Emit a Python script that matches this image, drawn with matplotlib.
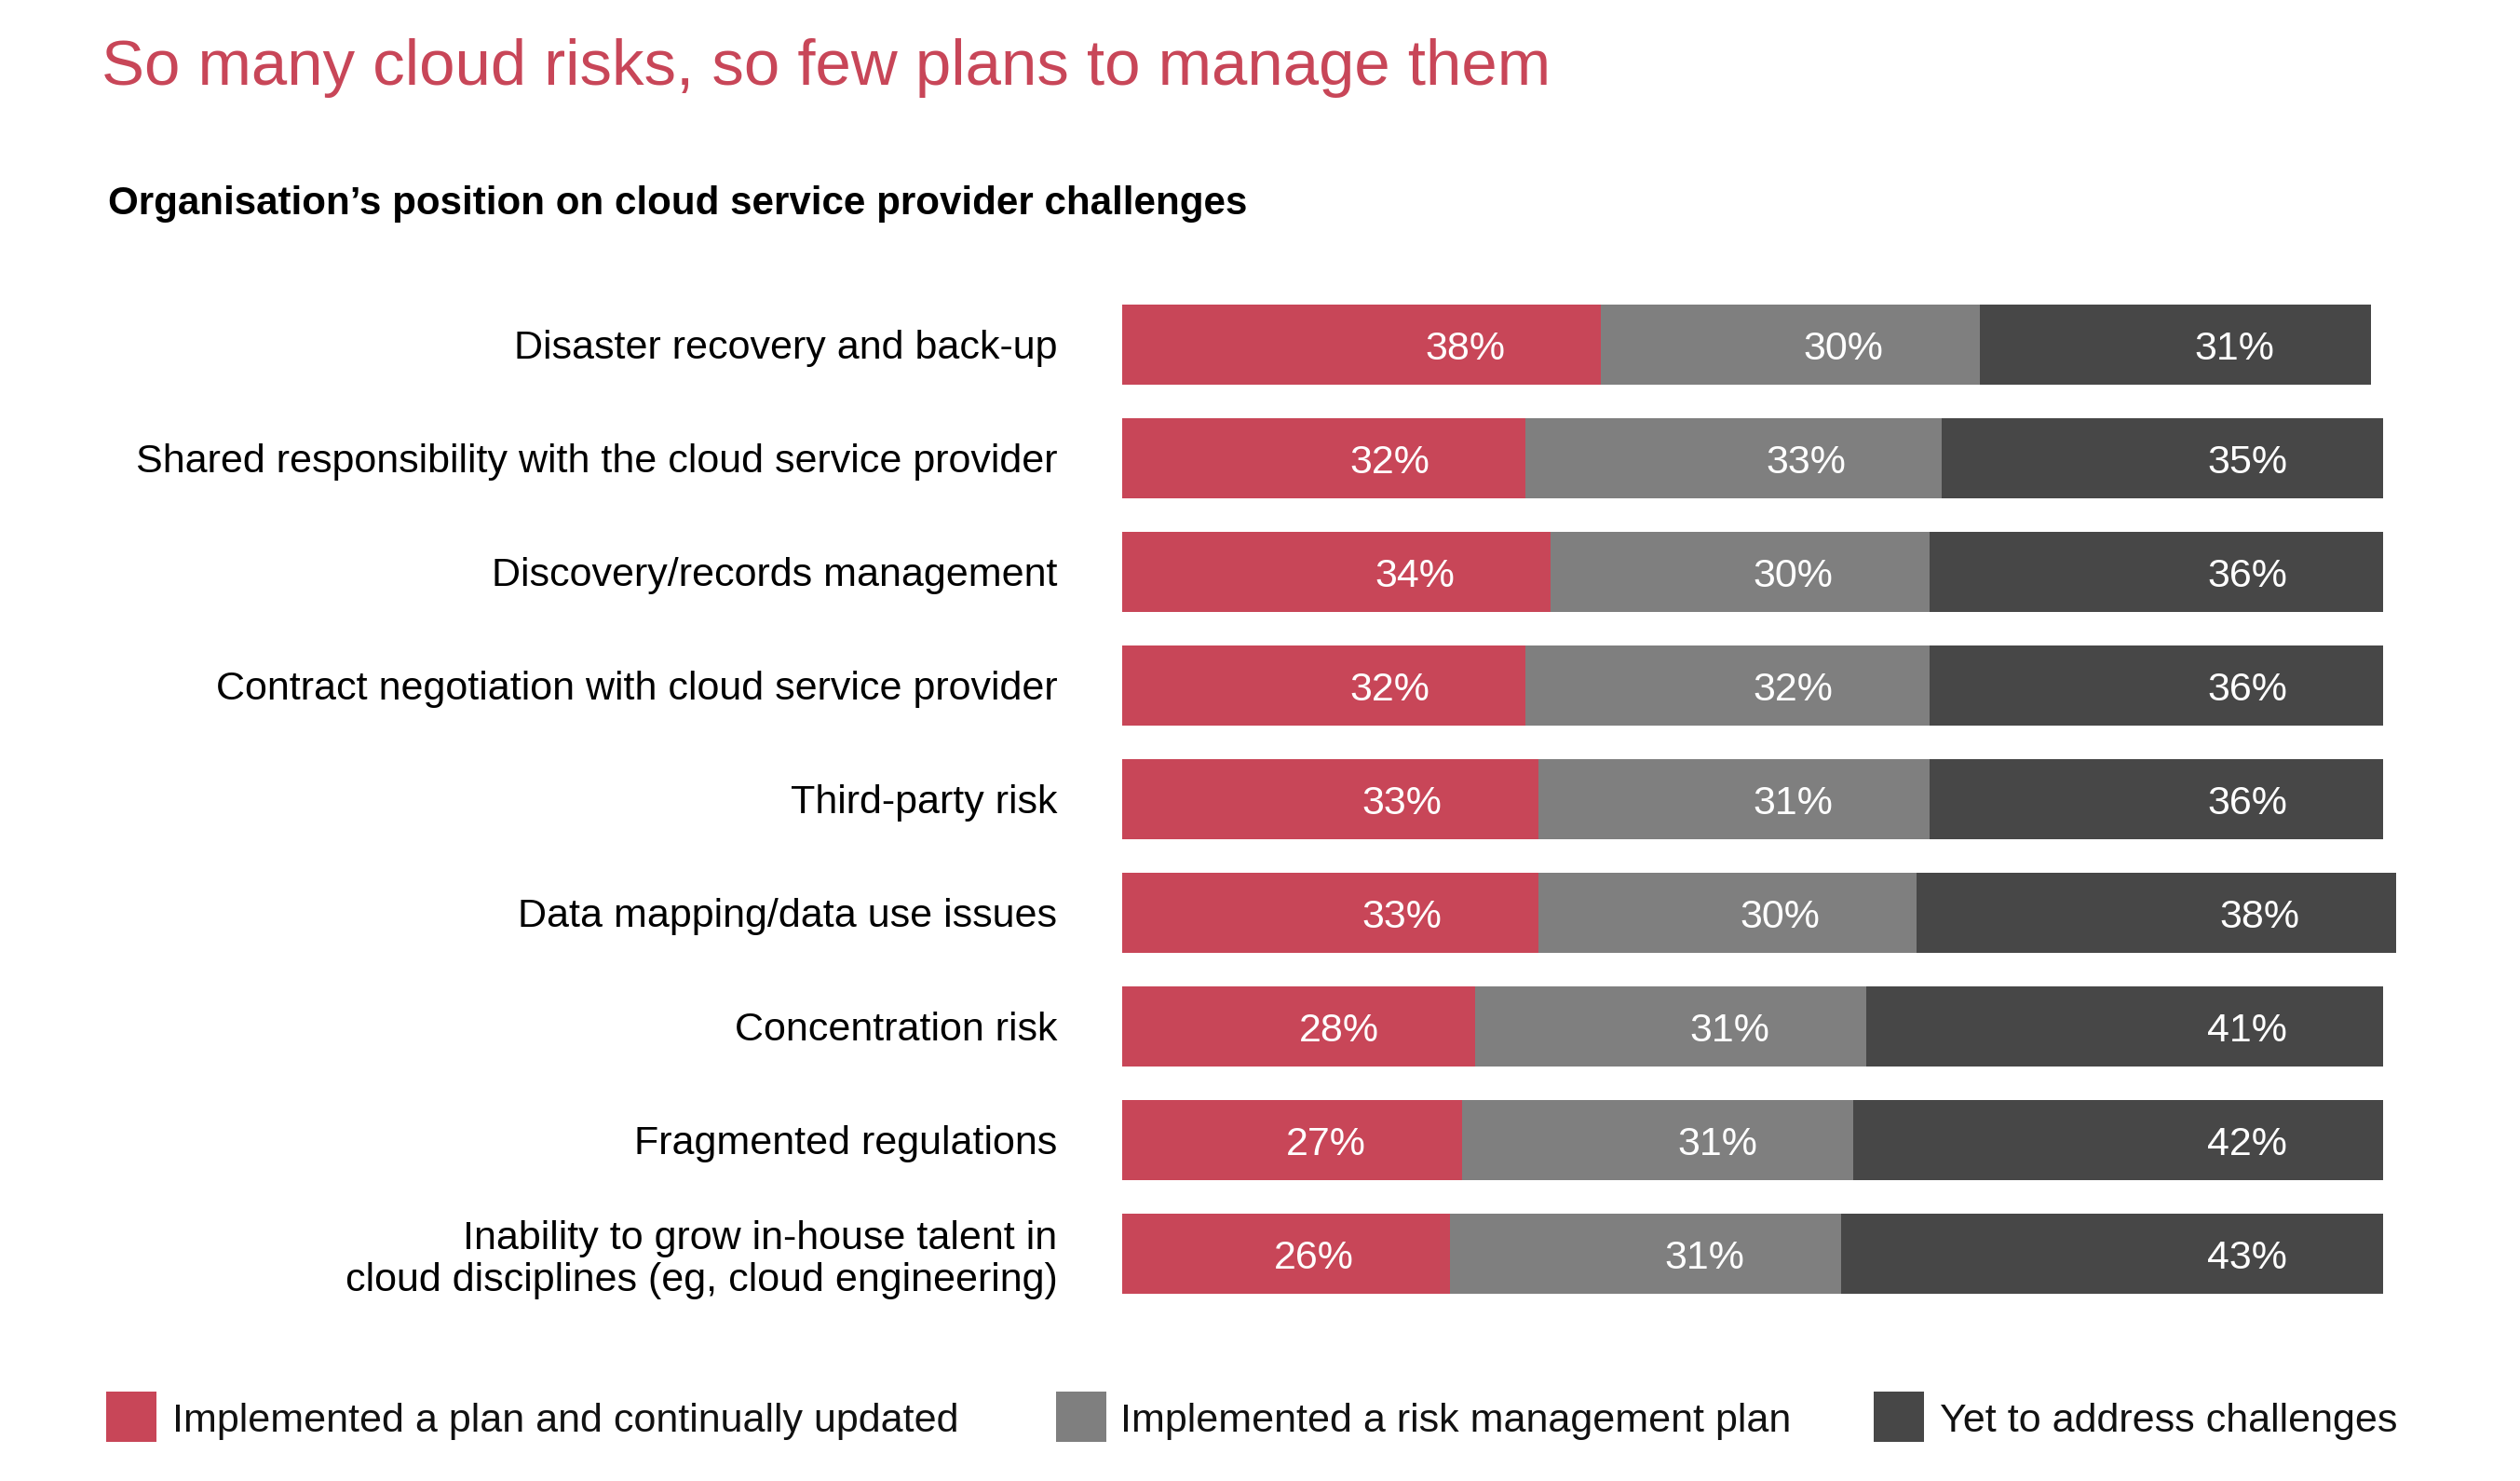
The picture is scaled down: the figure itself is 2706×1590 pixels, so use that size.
import matplotlib
matplotlib.use("Agg")
import matplotlib.pyplot as plt
from matplotlib.patches import Rectangle
import numpy as np

plt.rcParams["font.family"] = ["Liberation Sans", "DejaVu Sans"]

categories = [
    "Disaster recovery and back-up",
    "Shared responsibility with the cloud service provider",
    "Discovery/records management",
    "Contract negotiation with cloud service provider",
    "Third-party risk",
    "Data mapping/data use issues",
    "Concentration risk",
    "Fragmented regulations",
    "Inability to grow in-house talent in\ncloud disciplines (eg, cloud engineering)",
]
series_names = [
    "Implemented a plan and continually updated",
    "Implemented a risk management plan",
    "Yet to address challenges",
]
plan_updated = [38, 32, 34, 32, 33, 33, 28, 27, 26]
risk_plan = [30, 33, 30, 32, 31, 30, 31, 31, 31]
yet_to_address = [31, 35, 36, 36, 36, 38, 41, 42, 43]

RED = "#C84658"
GREY = "#7F7F7F"
DARK = "#474747"
colors = [RED, GREY, DARK]

W, H = 2706, 1590
fig = plt.figure(figsize=(W / 100, H / 100), dpi=100)
fig.patch.set_facecolor("white")

ax = fig.add_axes([0.4452, 0.1151, 0.5006, 0.6906])
y = np.arange(len(categories))
left = np.zeros(len(categories))
for vals, c in zip([plan_updated, risk_plan, yet_to_address], colors):
    vals = np.array(vals, dtype=float)
    ax.barh(y, vals, left=left, height=0.702, color=c, linewidth=0, clip_on=False)
    ends = left + vals
    # value labels sit a fixed distance in from the segment end
    for yi, e, v in zip(y, ends, vals):
        ax.text(e - 10.8, yi + 0.04, f"{v:.0f}%", ha="center", va="center",
                color="white", fontsize=31)
    left = ends

ax.set_xlim(0, 100)
ax.set_ylim(len(categories) - 0.5, -0.5)
ax.set_yticks(y)
ax.set_yticklabels(categories, fontsize=31, ha="right", linespacing=1.15)
ax.tick_params(axis="y", length=0, pad=50)
ax.set_xticks([])
for s in ax.spines.values():
    s.set_visible(False)

fig.text(0.0404, 0.943, "So many cloud risks, so few plans to manage them",
         color=RED, fontsize=49.7, ha="left", va="baseline")
fig.text(0.0427, 0.8553, "Organisation\u2019s position on cloud service provider challenges",
         color="black", fontsize=30.3, fontweight="bold", ha="left", va="baseline")

# legend
patch_x = [0.0421, 0.4190, 0.7436]
text_x = [0.0682, 0.4445, 0.7698]
py, pw, ph = 1 - 1548 / H, 54 / W, 54 / H
for px, tx, name, c in zip(patch_x, text_x, series_names, colors):
    fig.patches.append(Rectangle((px, py), pw, ph, transform=fig.transFigure,
                                 facecolor=c, edgecolor="none"))
    fig.text(tx, py + ph / 2 - 0.003, name, fontsize=31, ha="left", va="center",
             color="#111111")

fig.savefig("out.png", dpi=100)
